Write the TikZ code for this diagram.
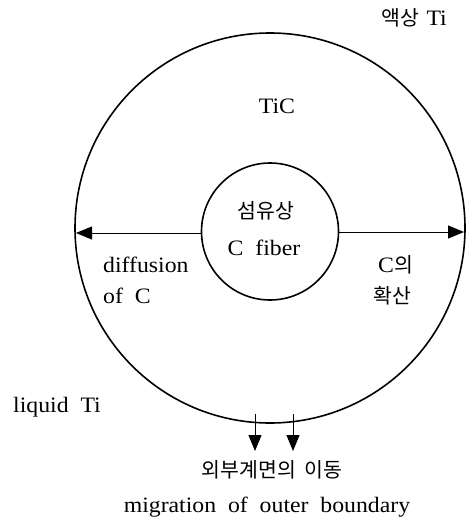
\documentclass[tikz,border=0pt]{standalone}
\usepackage{fontspec}
\setmainfont[FakeStretch=1.08,WordSpace=2]{Liberation Serif}
\newfontfamily\kr[WordSpace=2]{Noto Sans CJK KR}
\usetikzlibrary{arrows.meta}
\begin{document}
\begin{tikzpicture}[x=1pt,y=-1pt,
  lbl/.style={inner sep=0pt, font=\fontsize{22}{25}\selectfont},
  krl/.style={inner sep=0pt, font=\kr\fontsize{20.5}{23}\selectfont},
  ring/.style={circle, draw, line width=1.6pt, inner sep=0pt},
  arr/.style={line width=1pt, -{Triangle[length=16pt,width=13pt]}}]
\useasboundingbox (0,0) rectangle (466,519);
% rings
\node[ring, minimum size=390pt] (outer) at (270,228) {};
\node[ring, minimum size=137pt] (inner) at (270,231.5) {};
% horizontal arrows
\coordinate (li) at (201.5,233);
\coordinate (lo) at (76,233);
\coordinate (ri) at (338.5,232);
\coordinate (ro) at (464,232);
\draw[arr] (li) -- (lo);
\draw[arr] (ri) -- (ro);
% downward arrows
\coordinate (d1s) at (255,414);
\coordinate (d1e) at (255,451);
\coordinate (d2s) at (293,414);
\coordinate (d2e) at (293,451);
\draw[arr] (d1s) -- (d1e);
\draw[arr] (d2s) -- (d2e);
% labels
\node[anchor=east, inner sep=0pt] (liq) at (447,18) {\fontsize{22}{25}\selectfont{\kr\fontsize{20.5}{23}\selectfont 액상}\hspace{7pt}Ti};
\node[lbl] (tic) at (277,106) {TiC};
\node[krl] (fib1) at (266,211) {섬유상};
\node[lbl] (fib2) at (264,248) {C fiber};
\node[lbl, anchor=west] (dif1) at (103,265) {diffusion};
\node[lbl, anchor=west] (dif2) at (103,296) {of C};
\node[anchor=west, inner sep=0pt] (cu1) at (378,265) {\fontsize{22}{25}\selectfont C{\kr\fontsize{20.5}{23}\selectfont 의}};
\node[krl, anchor=west] (cu2) at (373,296) {확산};
\node[lbl] (lti) at (57,407) {liquid Ti};
\node[krl] (mig1) at (272,470) {외부계면의\hspace{8pt}이동};
\node[lbl] (mig2) at (267,507) {migration of outer boundary};
\end{tikzpicture}
\end{document}
